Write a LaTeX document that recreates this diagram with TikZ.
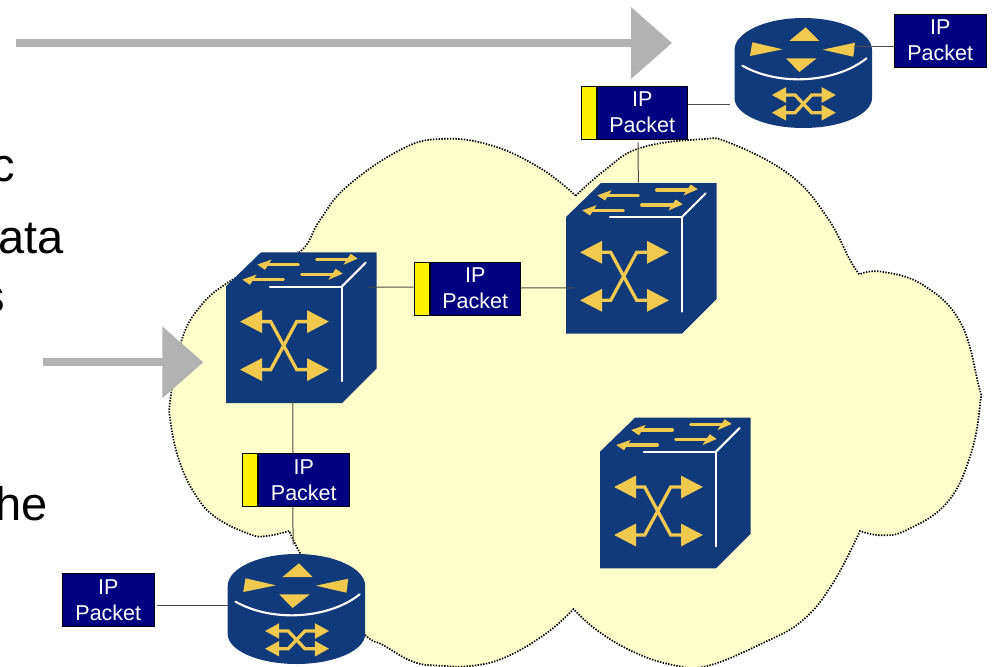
\documentclass[tikz,border=0pt]{standalone}
\usepackage{fontspec}
\setmainfont{Liberation Sans}
\usetikzlibrary{arrows.meta}
\usetikzlibrary{positioning}
\usetikzlibrary{calc}
\definecolor{cloudcol}{HTML}{FFFFCC}
\definecolor{devcol}{HTML}{113A7B}
\definecolor{goldcol}{HTML}{F2C94F}
\definecolor{pktcol}{HTML}{000080}
\definecolor{flowcol}{HTML}{B2B2B2}
\tikzset{every picture/.style={line width=1pt}}
\begin{document}
\begin{tikzpicture}[x=1pt,y=-1pt,
packet/.style={draw=black,fill=pktcol,text=white,align=center,inner sep=0pt,line width=0.8pt,minimum width=90.6pt,minimum height=53.2pt,font=\fontsize{21.5}{26}\selectfont},
tagbox/.style={draw=black,fill=yellow,inner sep=0pt,line width=0.8pt,minimum width=15pt,minimum height=53.2pt},
wire/.style={draw=black!70,line width=1pt},
bigtext/.style={anchor=base east,inner sep=0pt,font=\fontsize{47}{47}\selectfont},
flow/.style={draw=flowcol,line width=8pt,-{Triangle[length=41pt,width=70pt]}},
goldline/.style={draw=goldcol,line width=3.3pt},
whiteline/.style={draw=white,line width=2.1pt,line cap=round}]
\useasboundingbox (0,0) rectangle (992,666);
\fill[cloudcol] plot[smooth,tension=.7] coordinates {(575.7,195.7) (605,170) (640,148) (700,139.3) (730,143) (790,175) (826.7,216.7) (850,260) (859.3,274.3)}
-- plot[smooth,tension=.7] coordinates {(859.3,274.3) (881.7,271.7) (923,285) (960,321.7) (978,383) (980,405) (970,456.7) (946.7,503) (906.7,530) (881.7,535.3) (860,531)}
-- plot[smooth,tension=.7] coordinates {(860,531) (833,583) (803,620) (763,643) (707,666) (673,665) (633,651.7) (596.7,630) (573.5,609)}
-- plot[smooth,tension=.7] coordinates {(573.5,609) (546.7,633) (506.7,656.7) (473,665.7) (440,665.7) (413,661.7) (383,645) (365,635) (325,595) (300,553) (289.3,531)}
-- plot[smooth,tension=.7] coordinates {(289.3,531) (266.7,536) (250,534.3) (216.7,518) (196.7,496.7) (180,463) (170.7,423) (170.7,396.7) (181.7,340) (200,306.7) (226.7,283.3) (262,265)}
-- plot[smooth,tension=.7] coordinates {(262,265) (300,251.7) (320,220) (346.7,186.7) (400,150) (440,139) (490,145) (540,168) (575.7,195.7)} -- cycle;
\draw[black,dash pattern=on 1.4pt off 1.4pt,line width=1.7pt] plot[smooth,tension=.7] coordinates {(575.7,195.7) (605,170) (640,148) (700,139.3) (730,143) (790,175) (826.7,216.7) (850,260) (859.3,274.3)}
-- plot[smooth,tension=.7] coordinates {(859.3,274.3) (881.7,271.7) (923,285) (960,321.7) (978,383) (980,405) (970,456.7) (946.7,503) (906.7,530) (881.7,535.3) (860,531)}
-- plot[smooth,tension=.7] coordinates {(860,531) (833,583) (803,620) (763,643) (707,666) (673,665) (633,651.7) (596.7,630) (573.5,609)}
-- plot[smooth,tension=.7] coordinates {(573.5,609) (546.7,633) (506.7,656.7) (473,665.7) (440,665.7) (413,661.7) (383,645) (365,635) (325,595) (300,553) (289.3,531)}
-- plot[smooth,tension=.7] coordinates {(289.3,531) (266.7,536) (250,534.3) (216.7,518) (196.7,496.7) (180,463) (170.7,423) (170.7,396.7) (181.7,340) (200,306.7) (226.7,283.3) (262,265)}
-- plot[smooth,tension=.7] coordinates {(262,265) (300,251.7) (320,220) (346.7,186.7) (400,150) (440,139) (490,145) (540,168) (575.7,195.7)} -- cycle;
\foreach \i/\x/\y in {1/226/252.3,2/566/183,3/600/417.7} {
\begin{scope}[shift={(\x,\y)}]
\fill[devcol] (0,34) -- (35,0) -- (150.7,0) -- (150.7,116) -- (116,150.7) -- (0,150.7) -- cycle;
\draw[whiteline] (44,34.3) -- (115.7,34.3) -- (115.7,128.7);
\draw[whiteline] (115.7,34.3) -- (139.7,10.3);
\draw[goldline,{Triangle[length=22pt,width=22pt]}-{Triangle[length=22pt,width=22pt]}] (14,69.3) -- (44.7,69.3) -- (70.7,117.3) -- (103,117.3);
\draw[goldline,{Triangle[length=22pt,width=22pt]}-{Triangle[length=22pt,width=22pt]}] (14,117.3) -- (44.7,117.3) -- (70.7,69.3) -- (103,69.3);
\foreach \dx/\dy in {0/0,-15/15} {
\draw[goldline,line cap=round] (72.3+\dx,12.3+\dy) -- (40+\dx,12.3+\dy);
\fill[goldcol] (31.3+\dx,12.3+\dy) -- (45.7+\dx,7.2+\dy) -- (39+\dx,17.5+\dy) -- cycle;
\draw[goldline,line cap=round] (90.7+\dx,7+\dy) -- (124+\dx,7+\dy);
\fill[goldcol] (131.7+\dx,6.3+\dy) -- (124.7+\dx,1.5+\dy) -- (117.3+\dx,12.5+\dy) -- cycle;
}
\node (sw\i) at (75.35,75.35) [inner sep=0pt,minimum width=150.7pt,minimum height=150.7pt] {};
\end{scope}
}
\foreach \i/\x/\y in {1/734.5/18,2/227.7/554} {
\begin{scope}[shift={(\x,\y)}]
\fill[devcol] (0,32) .. controls (0,14.4) and (30.9,0) .. (68.75,0) .. controls (106.6,0) and (137.5,14.4) .. (137.5,32) -- (137.5,80) .. controls (137.5,96.5) and (106.6,110) .. (68.75,110) .. controls (30.9,110) and (0,96.5) .. (0,80) -- cycle;
\draw[whiteline] (7.8,47.7) .. controls (28,59) and (50,61.5) .. (65.5,61.3) .. controls (90,61) and (115,54) .. (132,40.3);
\fill[goldcol] (54.8,23) -- (84.8,23) -- (71.2,9.3) -- cycle;
\fill[goldcol] (51.5,40.3) -- (82.2,40.3) -- (64.8,54) -- cycle;
\fill[goldcol] (17.8,24.3) -- (15.5,38) -- (48.2,31.3) -- cycle;
\fill[goldcol] (120.5,24.7) -- (118.8,38.7) -- (88.2,31.7) -- cycle;
\draw[goldline,{Triangle[length=14.3pt,width=14.6pt]}-{Triangle[length=14.3pt,width=14.6pt]}] (37.2,77) -- (60.5,77) -- (77.2,94.7) -- (101.5,94.7);
\draw[goldline,{Triangle[length=14.3pt,width=14.6pt]}-{Triangle[length=14.3pt,width=14.6pt]}] (37.2,94.7) -- (60.5,94.7) -- (77.2,77) -- (101.5,77);
\node (rt\i) at (68.75,55) [inner sep=0pt,minimum width=137.5pt,minimum height=110pt] {};
\end{scope}
}
\node (pk0) at (940.2,40.7) [packet,minimum width=91.6pt] {IP\\Packet};
\node (pk1) at (642.2,112.7) [packet] {IP\\Packet};
\node (pk2) at (475.2,288.7) [packet] {IP\\Packet};
\node (pk3) at (303.8,480) [packet] {IP\\Packet};
\node (pk4) at (108.3,600) [packet,minimum width=91.8pt] {IP\\Packet};
\foreach \i in {1,2,3} {
\node (tag\i) [tagbox,left=0pt of pk\i] {};
}
\draw[wire] (pk0.west |- 0,46.3) -- ($(rt1.east)+(-18.7,-26.7)$);
\draw[wire] ($(pk1.east)+(0,-8)$) -- ($(rt1.west)+(-3.8,31.7)$);
\draw[wire] ($(pk1.south)+(-4.2,3)$) -- ($(sw2.north)+(-3,0)$);
\draw[wire] ($(sw1.east)+(-8.7,-40.5)$) -- ($(tag2.west)+(0,-1.7)$);
\draw[wire] ($(pk2.east)+(0,-0.7)$) -- ($(sw2.west)+(8,29.5)$);
\draw[wire] ($(sw1.south)+(-8.5,-2.7)$) -- ($(pk3.north)+(-10.8,0)$);
\draw[wire] ($(pk3.south)+(-11,0)$) -- ($(rt2.north)+(-3.3,-9)$);
\draw[wire] ($(pk4.east)+(2.4,5.7)$) -- ($(rt2.west)+(0.3,-3.3)$);
\coordinate (top1) at (16,43);
\coordinate (top2) at (672,43);
\coordinate (mid1) at (43,362.3);
\coordinate (mid2) at (203.3,362.3);
\draw[flow] (top1) -- (top2);
\draw[flow] (mid1) -- (mid2);
\node (t1) at (15.5,181) [bigtext] {c};
\node (t2) at (64.5,253) [bigtext] {ata};
\node (t3) at (6,312) [bigtext] {s};
\node (t4) at (2.2,385) [bigtext] {o};
\node (t5) at (48.5,520) [bigtext] {he};
\end{tikzpicture}
\end{document}
